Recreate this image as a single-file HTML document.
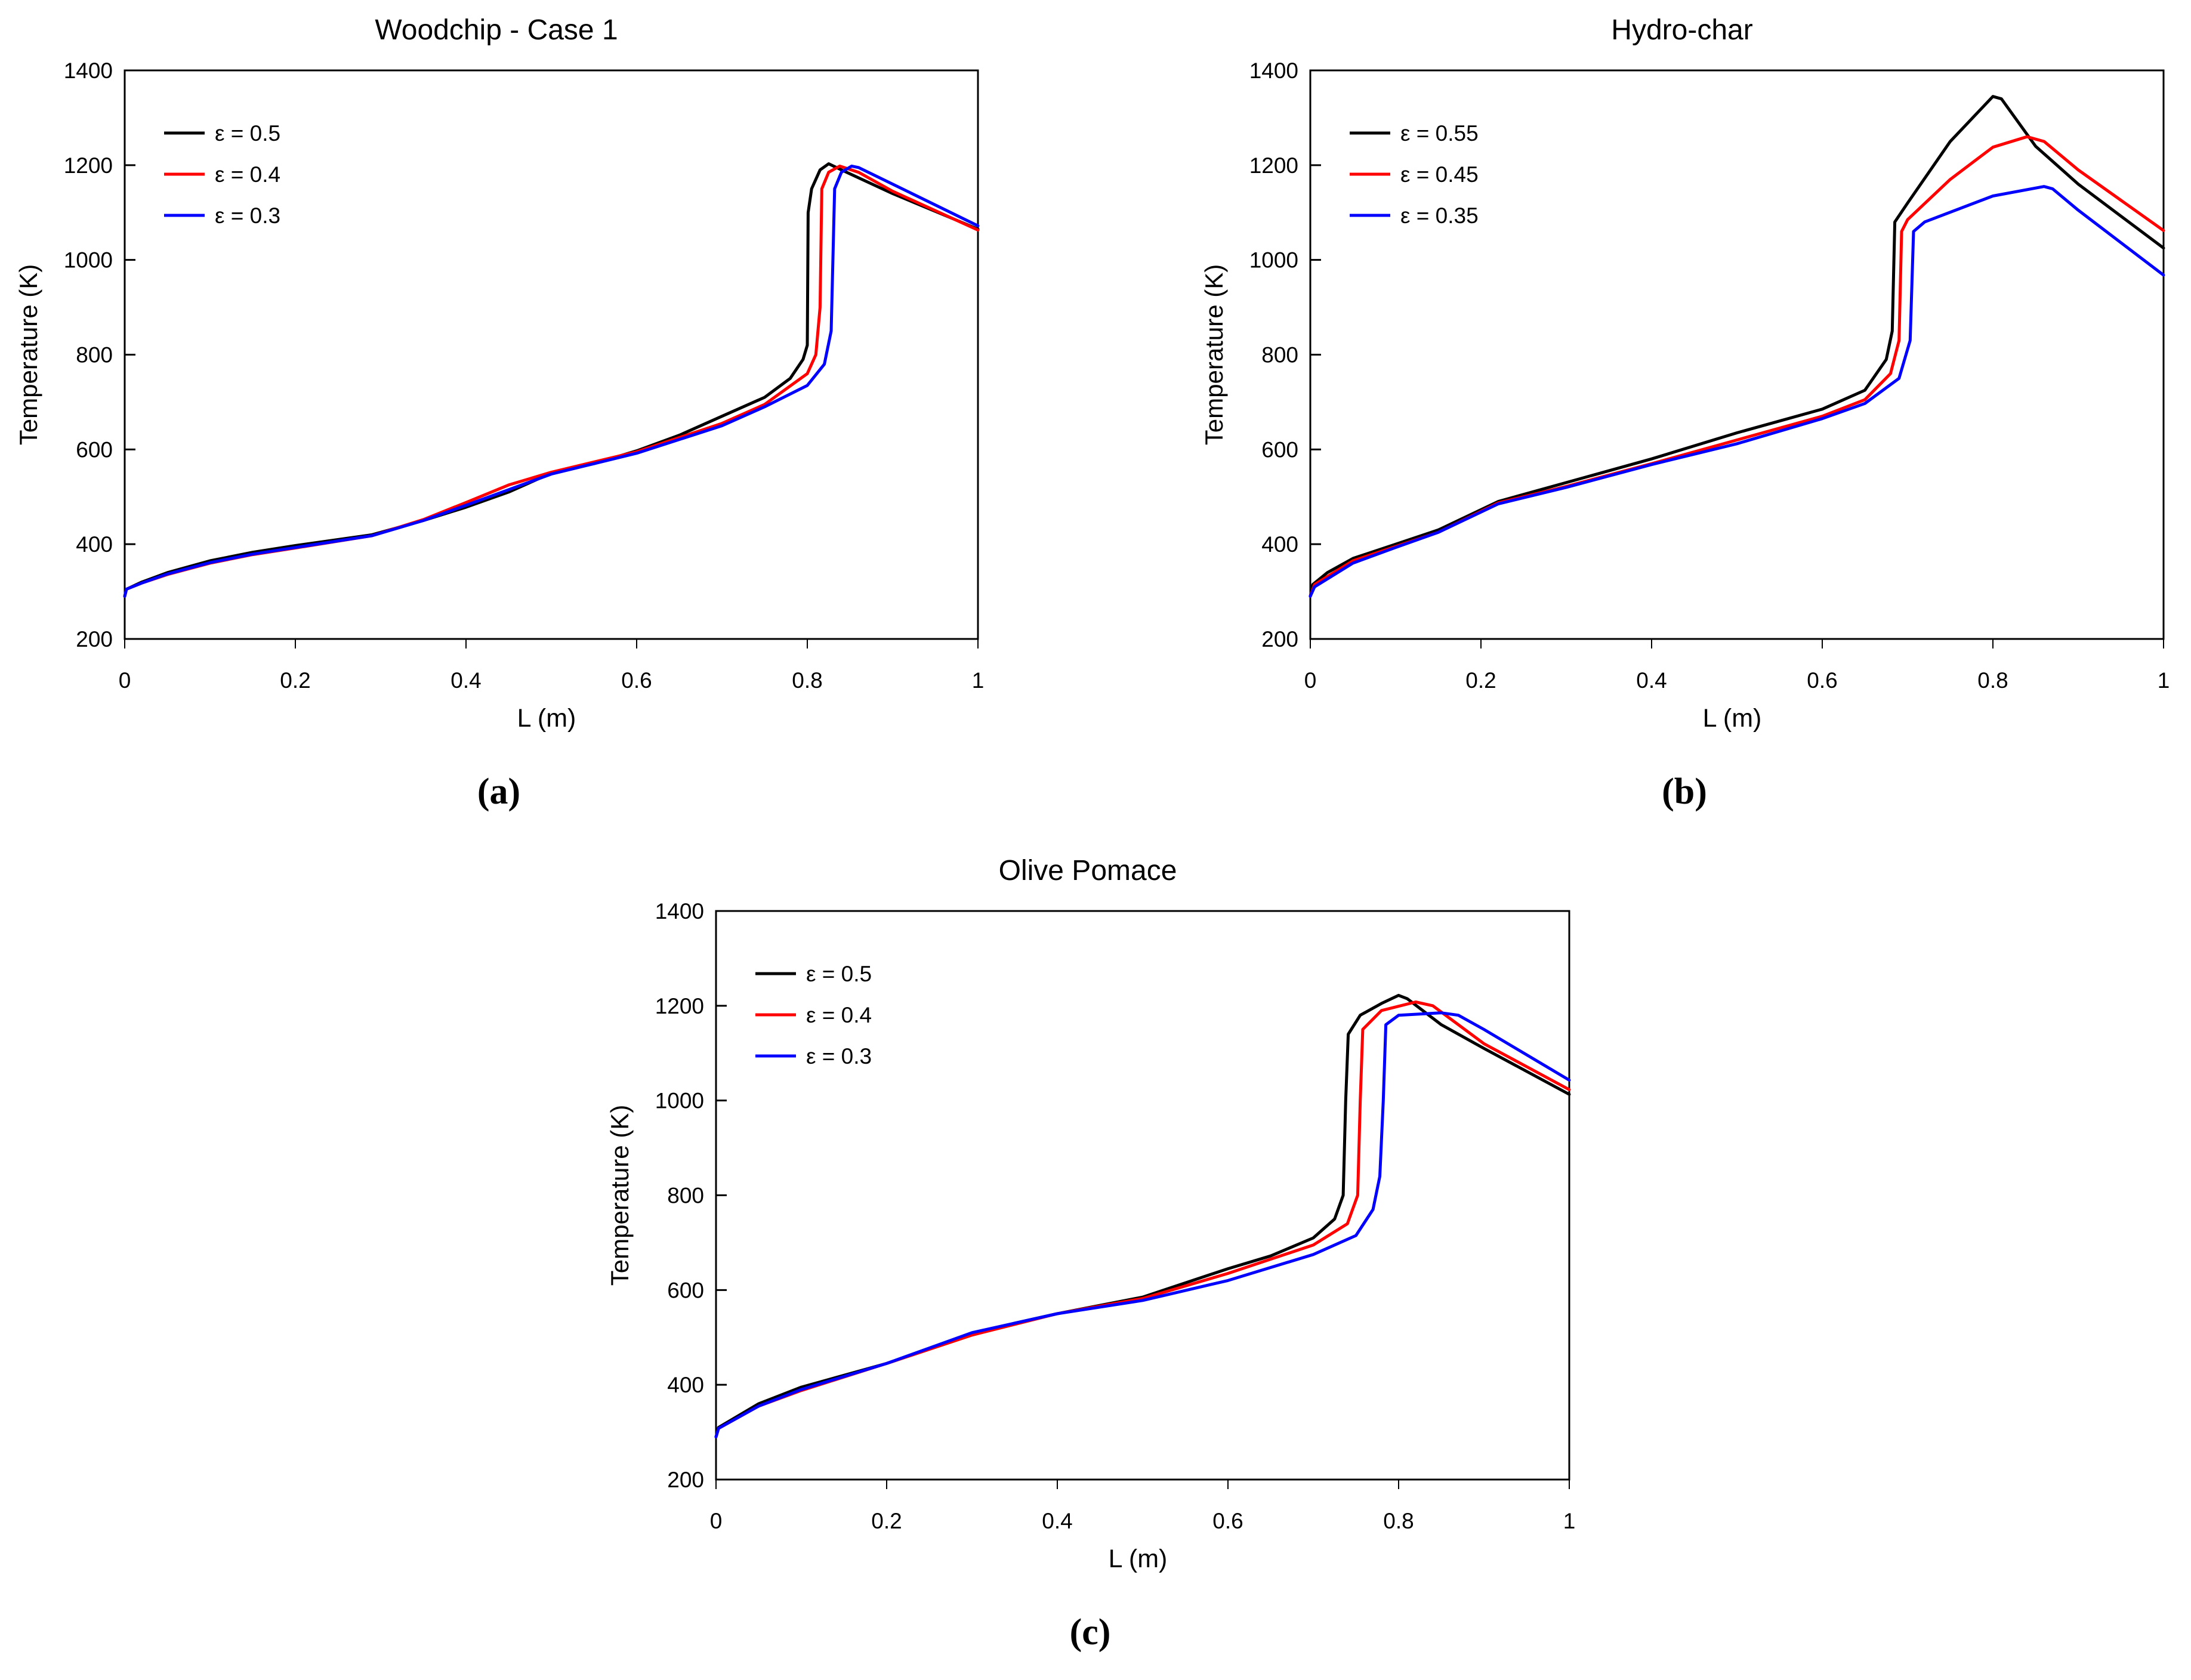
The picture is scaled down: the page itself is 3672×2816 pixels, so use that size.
<!DOCTYPE html>
<html><head><meta charset="utf-8"><style>
html,body{margin:0;padding:0;background:#fff;}
svg{display:block;font-family:"Liberation Sans","DejaVu Sans",sans-serif;}
</style></head><body>
<svg id="fig" width="3672" height="2816" viewBox="0 0 3672 2816" xmlns="http://www.w3.org/2000/svg"></svg>
<script>
const xTicks=[0,0.2,0.4,0.6,0.8,1];
const xTickLabels=["0","0.2","0.4","0.6","0.8","1"];
const yTicks=[200,400,600,800,1000,1200,1400];

const aBlackL=[0,0.002,0.02,0.05,0.1,0.15,0.2,0.29,0.35,0.4,0.45,0.5,0.55,0.6,0.65,0.7,0.75,0.78,0.795,0.8,0.801,0.805,0.815,0.825,0.84,0.9,1];
const aBlackT=[290,305,320,340,365,383,397,420,450,478,510,550,570,597,630,670,710,750,790,820,1100,1150,1190,1203,1190,1140,1065];
const aRedL=[0,0.002,0.02,0.05,0.1,0.15,0.2,0.29,0.35,0.4,0.45,0.5,0.6,0.7,0.75,0.8,0.81,0.815,0.817,0.825,0.838,0.86,0.9,1];
const aRedT=[290,305,318,336,360,378,392,418,452,488,525,552,595,655,695,760,800,900,1150,1185,1198,1185,1145,1063];
const aBlueL=[0,0.002,0.02,0.05,0.1,0.15,0.2,0.29,0.35,0.4,0.45,0.5,0.6,0.7,0.75,0.8,0.82,0.828,0.83,0.832,0.84,0.852,0.86,0.9,1];
const aBlueT=[290,305,318,337,361,379,393,418,450,482,515,548,592,650,690,735,780,850,1000,1150,1185,1198,1195,1160,1072];

const bBlackL=[0,0.003,0.02,0.05,0.1,0.15,0.22,0.3,0.4,0.5,0.6,0.65,0.675,0.682,0.685,0.7,0.75,0.8,0.81,0.85,0.9,1];
const bBlackT=[290,315,340,370,400,430,490,530,580,635,685,725,790,850,1080,1120,1250,1345,1340,1240,1160,1025];
const bRedL=[0,0.005,0.05,0.1,0.15,0.22,0.3,0.4,0.5,0.6,0.65,0.68,0.69,0.693,0.7,0.75,0.8,0.84,0.86,0.9,1];
const bRedT=[290,315,365,395,425,487,522,570,620,670,705,760,830,1060,1085,1170,1238,1260,1250,1190,1062];
const bBlueL=[0,0.005,0.05,0.1,0.15,0.22,0.3,0.4,0.5,0.6,0.65,0.69,0.703,0.707,0.72,0.8,0.86,0.87,0.9,1];
const bBlueT=[290,310,360,393,425,485,520,568,612,665,697,750,830,1060,1080,1135,1155,1150,1105,968];

const cBlackL=[0,0.003,0.05,0.1,0.2,0.3,0.35,0.4,0.5,0.6,0.65,0.7,0.725,0.735,0.738,0.741,0.755,0.78,0.8,0.81,0.85,0.9,1];
const cBlackT=[290,310,360,395,445,505,530,550,585,645,672,710,750,800,1000,1140,1180,1205,1222,1215,1160,1110,1013];
const cRedL=[0,0.003,0.05,0.1,0.2,0.3,0.4,0.5,0.6,0.7,0.74,0.752,0.755,0.758,0.78,0.82,0.84,0.9,1];
const cRedT=[290,308,355,388,445,505,550,582,635,695,740,800,1000,1150,1190,1208,1200,1120,1023];
const cBlueL=[0,0.003,0.05,0.1,0.2,0.3,0.4,0.5,0.6,0.7,0.75,0.77,0.778,0.782,0.785,0.8,0.85,0.87,0.9,1];
const cBlueT=[290,308,355,390,445,510,550,578,620,675,715,770,840,1000,1160,1180,1185,1180,1150,1043];

const NS="http://www.w3.org/2000/svg";
const svg=document.getElementById('fig');
function mk(tag,attrs,parent){const e=document.createElementNS(NS,tag);for(const k in attrs)e.setAttribute(k,attrs[k]);(parent||svg).appendChild(e);return e;}

const panels=[
 {id:'a',x0:209,y0:118,title:'Woodchip - Case 1',label:'(a)',series:[[aBlackL,aBlackT,'#000','ε = 0.5'],[aRedL,aRedT,'#f00','ε = 0.4'],[aBlueL,aBlueT,'#00f','ε = 0.3']]},
 {id:'b',x0:2196,y0:118,title:'Hydro-char',label:'(b)',series:[[bBlackL,bBlackT,'#000','ε = 0.55'],[bRedL,bRedT,'#f00','ε = 0.45'],[bBlueL,bBlueT,'#00f','ε = 0.35']]},
 {id:'c',x0:1200,y0:1527,title:'Olive Pomace',label:'(c)',series:[[cBlackL,cBlackT,'#000','ε = 0.5'],[cRedL,cRedT,'#f00','ε = 0.4'],[cBlueL,cBlueT,'#00f','ε = 0.3']]}
];
const W=1430,H=953;
panels.forEach(p=>{
  const g=mk('g',{});
  
  
  const sx=v=>p.x0+v*W;
  const sy=v=>p.y0+H-(v-200)/1200*H;
  const t=mk('text',{x:p.x0+W/2-92,y:p.y0-52,'text-anchor':'middle','font-size':48},g);
  t.textContent=p.title;
  
  
  const fr=mk('rect',{x:p.x0,y:p.y0,width:W,height:H,fill:'none',stroke:'#000','stroke-width':3},g);
  
  
  xTicks.forEach((v,i)=>{
    mk('line',{x1:sx(v),x2:sx(v),y1:p.y0+H,y2:p.y0+H+16,stroke:'#000','stroke-width':2},g);
    const tl=mk('text',{x:sx(v),y:p.y0+H+82,'text-anchor':'middle','font-size':37},g);
    tl.textContent=xTickLabels[i];
    
    
  });
  yTicks.forEach(v=>{
    mk('line',{x1:p.x0,x2:p.x0+18,y1:sy(v),y2:sy(v),stroke:'#000','stroke-width':3},g);
    const tl=mk('text',{x:p.x0-20,y:sy(v)+13,'text-anchor':'end','font-size':37},g);
    tl.textContent=v;
    
    
  });
  const xt=mk('text',{x:p.x0+W/2-8,y:p.y0+H+147,'text-anchor':'middle','font-size':43},g);
  xt.textContent='L (m)';
  
  
  const cx=p.x0-147,cy=p.y0+H/2;
  const yt=mk('text',{x:cx,y:cy,'text-anchor':'middle','font-size':42,transform:`rotate(-90 ${cx} ${cy})`},g);
  yt.textContent='Temperature (K)';
  
  
  const pl=mk('text',{x:p.x0+W/2-88,y:p.y0+H+276,'text-anchor':'middle','font-size':62,'font-family':'Liberation Serif, serif','font-weight':'bold'},g);
  pl.textContent=p.label;
  
  
  p.series.forEach((s,k)=>{
    const pts=s[0].map((L,i)=>sx(L).toFixed(1)+','+sy(s[1][i]).toFixed(1)).join(' ');
    const line=mk('polyline',{points:pts,fill:'none',stroke:s[2],'stroke-width':5,'stroke-linejoin':'round','stroke-linecap':'round'},g);
    
    
    const ly=p.y0+105+k*69;
    const lg=mk('g',{},g);
    
    
    mk('line',{x1:p.x0+66,x2:p.x0+134,y1:ly,y2:ly,stroke:s[2],'stroke-width':5},lg);
    const lt=mk('text',{x:p.x0+151,y:ly+13,'font-size':37},lg);
    lt.textContent=s[3];
  });
});
</script>
</body></html>
